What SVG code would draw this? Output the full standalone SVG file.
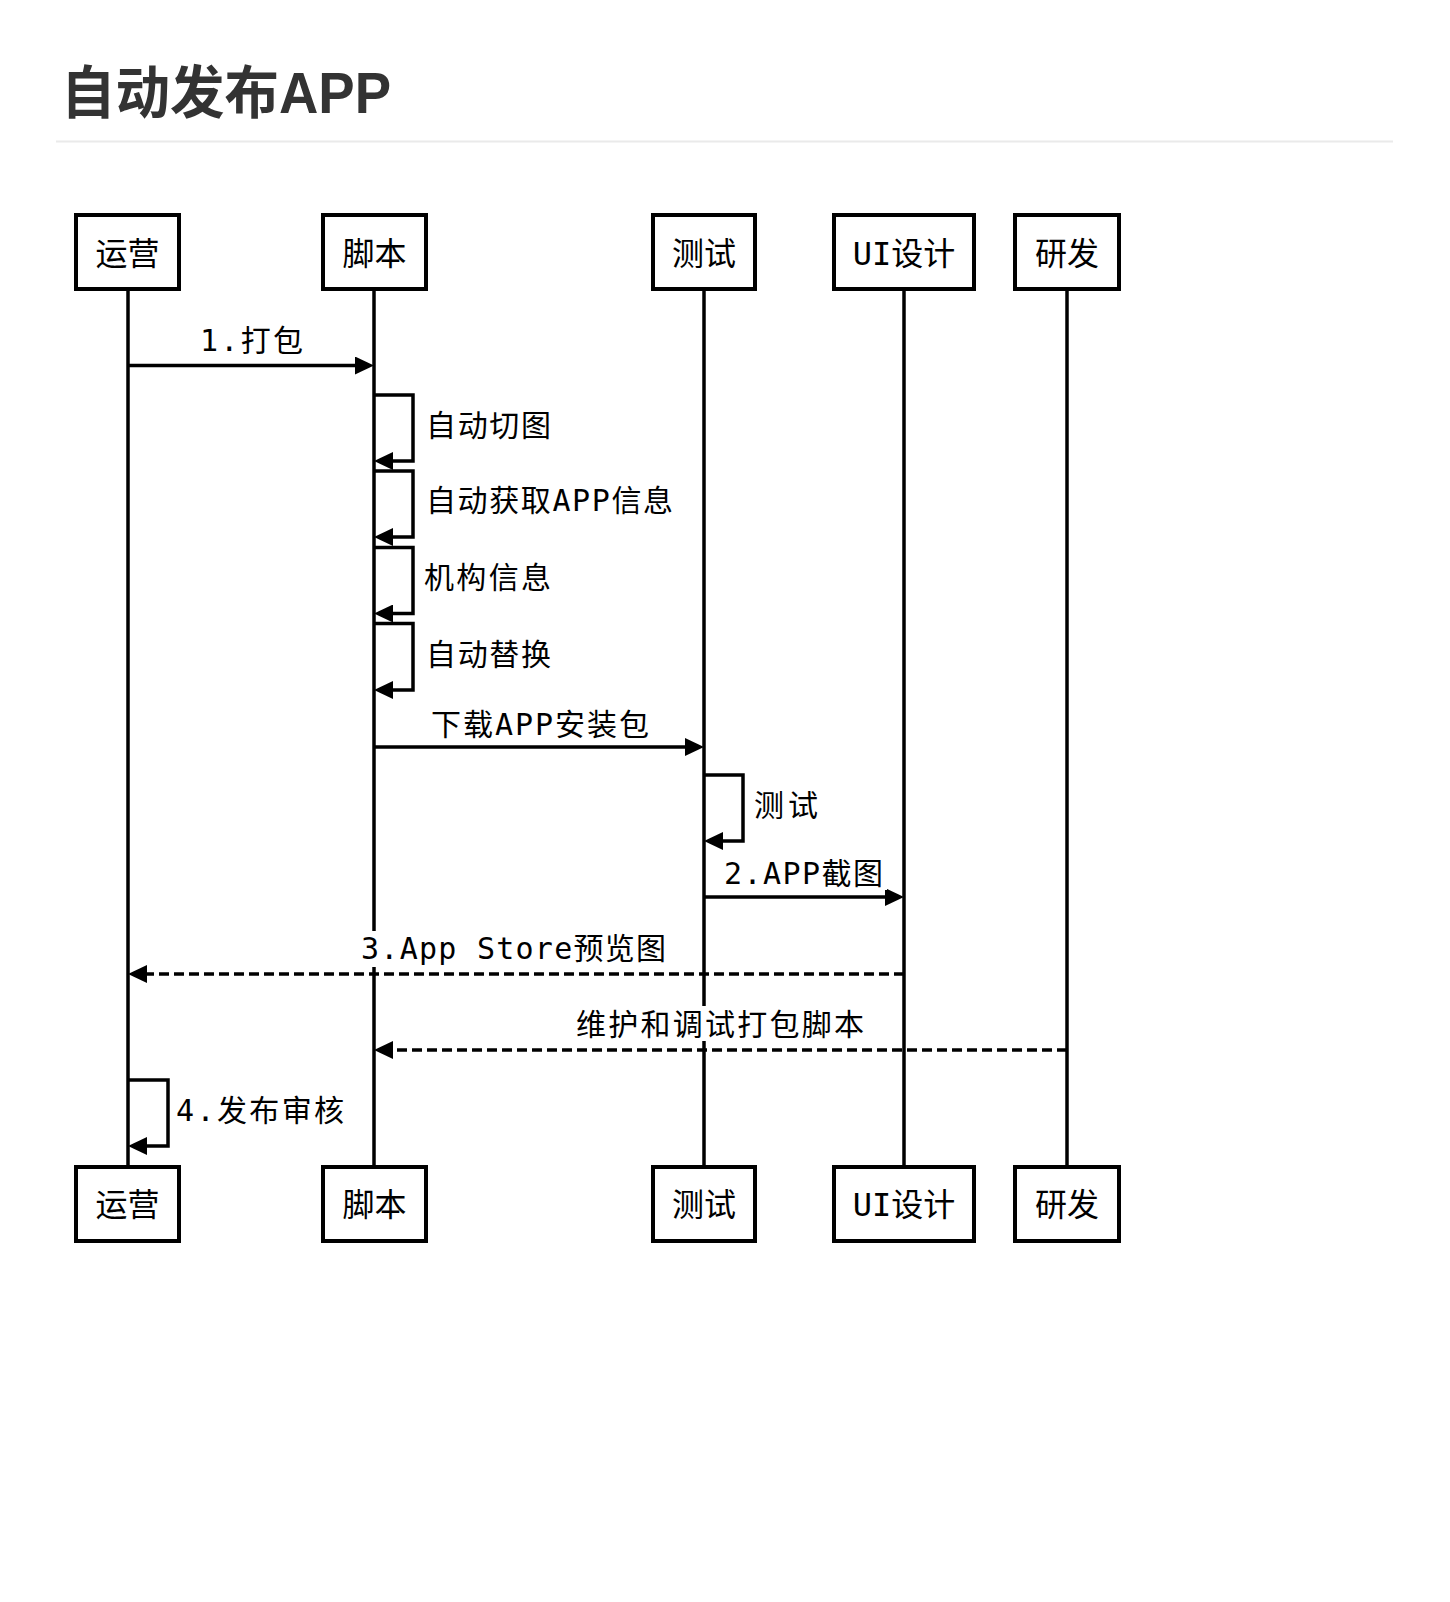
<svg xmlns="http://www.w3.org/2000/svg" width="1450" height="1602" viewBox="0 0 1450 1602">
<style>
.box{fill:#fff;stroke:#000;stroke-width:4}
.life{stroke:#000;stroke-width:3.5;fill:none}
.msg{stroke:#000;stroke-width:3.5;fill:none;marker-end:url(#ah)}
.dash{stroke-dasharray:10 5}
.nt{font-family:"DejaVu Sans Mono","Noto Sans CJK SC",monospace;font-size:32px;fill:#000;text-anchor:middle}
.lt{font-family:"DejaVu Sans Mono","Noto Sans CJK SC",monospace;font-size:30px;fill:#000}
.bg{fill:#fff;stroke:none}
</style>
<defs>
<marker id="ah" viewBox="0 0 19 18" refX="13" refY="9" markerWidth="19" markerHeight="18" markerUnits="userSpaceOnUse" orient="auto"><path d="M0,0 L19,9 L0,18 z" fill="#000"/></marker>
</defs>
<rect x="0" y="0" width="1450" height="1602" fill="#fff"/>
<g id="title">
<text x="61" y="113" font-family="Liberation Sans,'Noto Sans CJK SC',sans-serif" font-weight="bold" font-size="57" fill="#333" textLength="330" lengthAdjust="spacingAndGlyphs">自动发布APP</text>
<line x1="56" y1="141.5" x2="1393" y2="141.5" stroke="#eaeaea" stroke-width="2"/>
</g>
<g id="lifelines">
<line class="life" x1="128" y1="291" x2="128" y2="1165"/>
<line class="life" x1="374" y1="291" x2="374" y2="1165"/>
<line class="life" x1="704" y1="291" x2="704" y2="1165"/>
<line class="life" x1="904" y1="291" x2="904" y2="1165"/>
<line class="life" x1="1067" y1="291" x2="1067" y2="1165"/>
</g>
<g id="node-yunying">
<rect class="box" x="76" y="215" width="103" height="74"/><text class="nt" x="127.5" y="264.5">运营</text>
<rect class="box" x="76" y="1167" width="103" height="74"/><text class="nt" x="127.5" y="1216">运营</text>
</g>
<g id="node-jiaoben">
<rect class="box" x="323" y="215" width="103" height="74"/><text class="nt" x="374.5" y="264.5">脚本</text>
<rect class="box" x="323" y="1167" width="103" height="74"/><text class="nt" x="374.5" y="1216">脚本</text>
</g>
<g id="node-ceshi">
<rect class="box" x="653" y="215" width="102" height="74"/><text class="nt" x="704" y="264.5">测试</text>
<rect class="box" x="653" y="1167" width="102" height="74"/><text class="nt" x="704" y="1216">测试</text>
</g>
<g id="node-ui">
<rect class="box" x="834" y="215" width="140" height="74"/><text class="nt" x="904" y="264.5">UI设计</text>
<rect class="box" x="834" y="1167" width="140" height="74"/><text class="nt" x="904" y="1216">UI设计</text>
</g>
<g id="node-yanfa">
<rect class="box" x="1015" y="215" width="104" height="74"/><text class="nt" x="1067" y="264.5">研发</text>
<rect class="box" x="1015" y="1167" width="104" height="74"/><text class="nt" x="1067" y="1216">研发</text>
</g>
<g id="connectors">
<path class="msg" d="M128 365.5 H368"/>
<path class="msg" d="M374 395 H413 V461 H380"/>
<path class="msg" d="M374 471 H413 V537 H380"/>
<path class="msg" d="M374 547.5 H413 V613.5 H380"/>
<path class="msg" d="M374 623.5 H413 V690 H380"/>
<path class="msg" d="M374 747 H698"/>
<path class="msg" d="M704 775 H743 V841 H710"/>
<path class="msg" d="M704 897 H898"/>
<path class="msg dash" d="M904 974 H134"/>
<path class="msg dash" d="M1067 1050 H380"/>
<path class="msg" d="M128 1080 H168 V1146 H134"/>
</g>
<g id="labels">
<rect class="bg" x="197" y="328" width="110" height="30"/>
<text class="lt" x="200" y="351" textLength="103">1.打包</text>
<rect class="bg" x="422" y="408" width="132" height="34"/>
<text class="lt" x="426" y="436" textLength="125">自动切图</text>
<rect class="bg" x="422" y="483" width="254" height="34"/>
<text class="lt" x="426" y="511" textLength="247">自动获取APP信息</text>
<rect class="bg" x="420" y="561" width="134" height="33"/>
<text class="lt" x="424" y="588" textLength="127">机构信息</text>
<rect class="bg" x="422" y="638" width="132" height="32"/>
<text class="lt" x="426" y="664.5" textLength="125">自动替换</text>
<rect class="bg" x="428" y="706" width="224" height="34"/>
<text class="lt" x="431" y="734.5" textLength="218">下载APP安装包</text>
<rect class="bg" x="750" y="788" width="71" height="34"/>
<text class="lt" x="754" y="816" textLength="64">测试</text>
<rect class="bg" x="721" y="856" width="166" height="34"/>
<text class="lt" x="724" y="884" textLength="159">2.APP截图</text>
<rect class="bg" x="359" y="931" width="311" height="36"/>
<text class="lt" x="361" y="959" textLength="305">3.App Store预览图</text>
<rect class="bg" x="573" y="1006" width="294" height="35"/>
<text class="lt" x="576" y="1035" textLength="288">维护和调试打包脚本</text>
<rect class="bg" x="174" y="1093" width="173" height="34"/>
<text class="lt" x="176" y="1121" textLength="168">4.发布审核</text>
</g>
</svg>
